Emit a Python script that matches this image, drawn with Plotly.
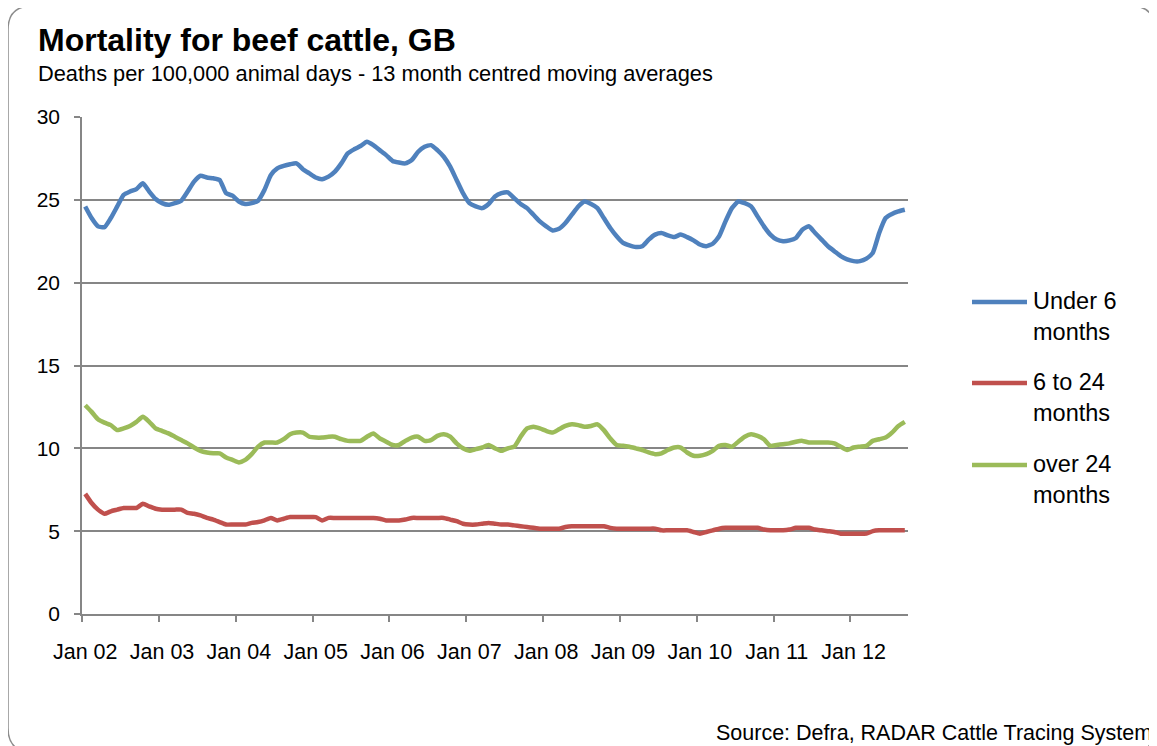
import plotly.graph_objects as go

# ---------------- data (monthly, Jan 2002 - Sep 2012) ----------------
under_6_months = [
    24.6, 23.9, 23.4, 23.35, 23.9, 24.6, 25.3, 25.5, 25.65, 26.0, 25.5, 25.05,
    24.8, 24.7, 24.8, 24.95, 25.5, 26.1, 26.45, 26.35, 26.3, 26.2, 25.4, 25.25,
    24.9, 24.75, 24.8, 24.95, 25.6, 26.5, 26.9, 27.05, 27.15, 27.2, 26.85, 26.6,
    26.35, 26.25, 26.4, 26.7, 27.2, 27.8, 28.05, 28.25, 28.5, 28.3, 28.0, 27.7,
    27.35, 27.25, 27.2, 27.4, 27.9, 28.2, 28.3, 28.0, 27.6, 27.0, 26.2, 25.4,
    24.8, 24.6, 24.5, 24.75, 25.2, 25.4, 25.45, 25.1, 24.75, 24.5, 24.1, 23.7,
    23.4, 23.15, 23.25, 23.6, 24.1, 24.6, 24.9, 24.75, 24.5, 23.9, 23.3, 22.8,
    22.4, 22.25, 22.15, 22.2, 22.6, 22.9, 23.0, 22.85, 22.75, 22.9, 22.75, 22.55,
    22.3, 22.2, 22.35, 22.8, 23.7, 24.5, 24.9, 24.8, 24.6, 24.0, 23.4, 22.9,
    22.6, 22.5, 22.55, 22.7, 23.2, 23.4, 23.0, 22.6, 22.2, 21.9, 21.6, 21.4,
    21.3, 21.3, 21.45, 21.8, 23.0, 23.9, 24.15, 24.3, 24.4,
]
six_to_24_months = [
    7.25, 6.7, 6.3, 6.05, 6.2, 6.3, 6.4, 6.4, 6.4, 6.65, 6.5, 6.35,
    6.3, 6.3, 6.3, 6.3, 6.1, 6.05, 5.95, 5.8, 5.7, 5.55, 5.4, 5.4,
    5.4, 5.4, 5.5, 5.55, 5.65, 5.8, 5.65, 5.75, 5.85, 5.85, 5.85, 5.85,
    5.85, 5.65, 5.8, 5.8, 5.8, 5.8, 5.8, 5.8, 5.8, 5.8, 5.75, 5.65,
    5.65, 5.65, 5.7, 5.8, 5.8, 5.8, 5.8, 5.8, 5.8, 5.7, 5.6, 5.45,
    5.4, 5.4, 5.45, 5.5, 5.45, 5.4, 5.4, 5.35, 5.3, 5.25, 5.2, 5.15,
    5.15, 5.15, 5.15, 5.25, 5.3, 5.3, 5.3, 5.3, 5.3, 5.3, 5.2, 5.15,
    5.15, 5.15, 5.15, 5.15, 5.15, 5.15, 5.05, 5.05, 5.05, 5.05, 5.05, 4.95,
    4.85, 4.95, 5.05, 5.15, 5.2, 5.2, 5.2, 5.2, 5.2, 5.2, 5.1, 5.05,
    5.05, 5.05, 5.1, 5.2, 5.2, 5.2, 5.1, 5.05, 5.0, 4.95, 4.85, 4.85,
    4.85, 4.85, 4.85, 5.0, 5.05, 5.05, 5.05, 5.05, 5.05,
]
over_24_months = [
    12.6, 12.2, 11.75, 11.55, 11.4, 11.1, 11.2, 11.35, 11.6, 11.9, 11.6, 11.2,
    11.05, 10.9, 10.7, 10.5, 10.3, 10.05, 9.85, 9.75, 9.7, 9.7, 9.45, 9.3,
    9.15, 9.3, 9.65, 10.1, 10.35, 10.35, 10.35, 10.55, 10.85, 10.95, 10.95, 10.7,
    10.65, 10.65, 10.7, 10.7, 10.55, 10.45, 10.45, 10.45, 10.7, 10.9, 10.6, 10.4,
    10.2, 10.2, 10.45, 10.65, 10.7, 10.45, 10.5, 10.75, 10.85, 10.7, 10.3, 10.0,
    9.85, 9.95, 10.05, 10.2, 10.0, 9.85, 10.0, 10.1, 10.7, 11.2, 11.3, 11.2,
    11.05, 10.95, 11.15, 11.35, 11.45, 11.4, 11.3, 11.35, 11.45, 11.1, 10.6, 10.2,
    10.15, 10.1, 10.0, 9.9, 9.75, 9.65, 9.7, 9.9, 10.05, 10.05, 9.75, 9.55,
    9.55, 9.65, 9.85, 10.15, 10.2, 10.1, 10.4, 10.7, 10.85, 10.75, 10.55, 10.15,
    10.2, 10.25, 10.3, 10.4, 10.45, 10.35, 10.35, 10.35, 10.35, 10.3, 10.1, 9.9,
    10.05, 10.1, 10.15, 10.45, 10.55, 10.65, 10.95, 11.35, 11.6,
]
year_labels = ["Jan 02", "Jan 03", "Jan 04", "Jan 05", "Jan 06", "Jan 07",
               "Jan 08", "Jan 09", "Jan 10", "Jan 11", "Jan 12"]
series_names = ["Under 6<br>months", "6 to 24<br>months", "over 24<br>months"]
series_colors = ["#4F81BD", "#C0504D", "#9BBB59"]
y_ticks = [0, 5, 10, 15, 20, 25, 30]

# ---------------- layout geometry ----------------
# the page body adds an 8px offset; positions below are screen pixels
OFF = 8
W, H = 1157 - OFF, 746 - OFF
SPL, SPR, SPT, SPB = 82, 908, 117, 614           # plot area on screen
ML, MT = SPL - OFF, SPT - OFF
MR, MB = W - (SPR - OFF), H - (SPB - OFF)


def xp(px):
    return (px - SPL) / (SPR - SPL)


def yp(py):
    return (SPB - py) / (SPB - SPT)


n = len(under_6_months)
x_idx = list(range(n))

fig = go.Figure()
for name, vals, col in zip(series_names, [under_6_months, six_to_24_months, over_24_months], series_colors):
    fig.add_trace(go.Scatter(
        x=x_idx, y=vals, mode="lines", name=name.replace("<br>", " "),
        line=dict(color=col, width=4.5, shape="spline", smoothing=0.5),
        showlegend=False, hoverinfo="skip",
    ))

grid_col = "#868686"
font_family = "Liberation Sans, Arial, sans-serif"

fig.update_layout(
    width=W, height=H,
    margin=dict(l=ML, r=MR, t=MT, b=MB, pad=0),
    paper_bgcolor="white", plot_bgcolor="white",
    font=dict(family=font_family, color="black", size=21),
    xaxis=dict(
        range=[-0.5, n - 0.5],
        tickmode="array",
        tickvals=[12 * i for i in range(len(year_labels))],
        ticktext=year_labels,
        ticks="",
        showgrid=False, zeroline=False,
        showline=True, linecolor=grid_col, linewidth=1.5,
        tickfont=dict(size=21.5, family=font_family),
        ticklabelstandoff=17,
        minor=dict(
            tickmode="array",
            tickvals=[12 * i - 0.5 for i in range(len(year_labels))],
            ticks="outside", ticklen=6, tickwidth=1.5, tickcolor=grid_col,
            showgrid=False,
        ),
        fixedrange=True,
    ),
    yaxis=dict(
        range=[0, 30],
        tickmode="array", tickvals=y_ticks,
        ticks="outside", ticklen=6, tickwidth=1.5, tickcolor=grid_col,
        showgrid=True, gridcolor=grid_col, gridwidth=1.5,
        zeroline=False,
        showline=True, linecolor=grid_col, linewidth=1.5,
        tickfont=dict(size=21, family=font_family),
        ticklabelstandoff=10,
        fixedrange=True,
    ),
)

# outer rounded frame (screen px)
x0, y0, x1, y1, r = 8, 6, 1155, 752, 24
frame = (f"M {xp(x0)},{yp(y0 + r)} Q {xp(x0)},{yp(y0)} {xp(x0 + r)},{yp(y0)} "
         f"L {xp(x1 - r)},{yp(y0)} Q {xp(x1)},{yp(y0)} {xp(x1)},{yp(y0 + r)} "
         f"L {xp(x1)},{yp(y1 - r)} Q {xp(x1)},{yp(y1)} {xp(x1 - r)},{yp(y1)} "
         f"L {xp(x0 + r)},{yp(y1)} Q {xp(x0)},{yp(y1)} {xp(x0)},{yp(y1 - r)} Z")
shapes = [dict(type="path", path=frame, xref="paper", yref="paper",
               line=dict(color="#8c8c8c", width=1.5), layer="below")]

annotations = [
    dict(text="<b>Mortality for beef cattle, GB</b>", x=xp(36), y=yp(40),
         xref="paper", yref="paper", xanchor="left", yanchor="middle",
         showarrow=False, font=dict(size=32, family=font_family)),
    dict(text="Deaths per 100,000 animal days - 13 month centred moving averages",
         x=xp(36), y=yp(73), xref="paper", yref="paper", xanchor="left",
         yanchor="middle", showarrow=False, font=dict(size=21.8, family=font_family)),
    dict(text="Source: Defra, RADAR Cattle Tracing System", x=xp(1154), y=yp(733),
         xref="paper", yref="paper", xanchor="right", yanchor="middle",
         showarrow=False, font=dict(size=21.5, family=font_family)),
]

# legend (manual, to match the long line samples)
legend_y = [302, 383, 465]
for name, col, ly in zip(series_names, series_colors, legend_y):
    shapes.append(dict(type="line", xref="paper", yref="paper",
                       x0=xp(972), x1=xp(1027), y0=yp(ly), y1=yp(ly),
                       line=dict(color=col, width=4.5)))
    annotations.append(dict(text=name, x=xp(1031), y=yp(ly - 16),
                            xref="paper", yref="paper", xanchor="left",
                            yanchor="top", align="left", showarrow=False,
                            font=dict(size=23.5, family=font_family)))

fig.update_layout(shapes=shapes, annotations=annotations)
fig.write_html("out.html")
